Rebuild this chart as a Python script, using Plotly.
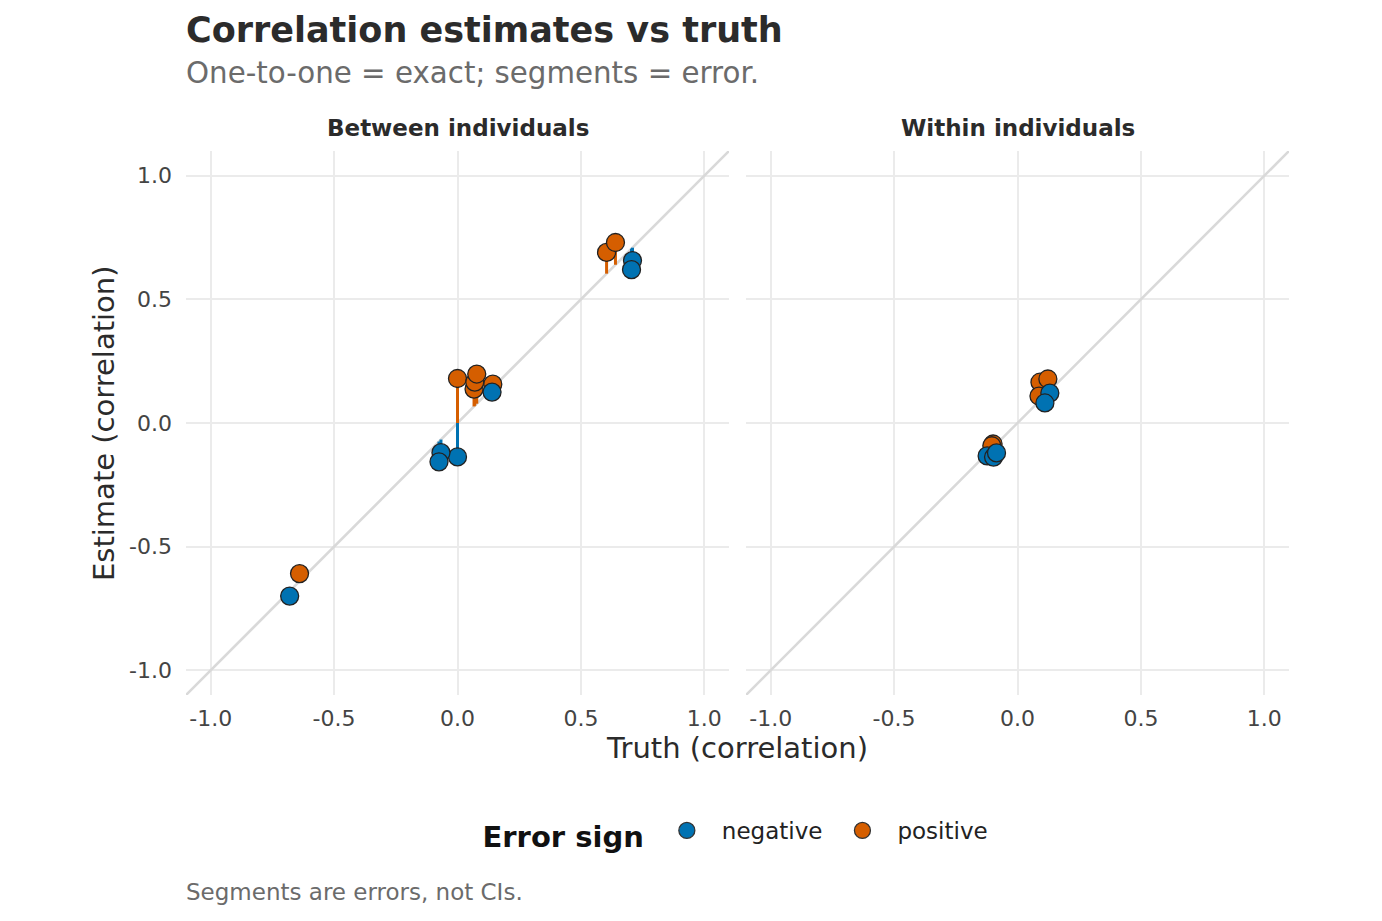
import plotly.graph_objects as go

# Between individuals (row order = drawing order)
between_truth = [-0.64, -0.68, 0.00, 0.00, -0.067, -0.075, 0.604, 0.640, 0.709, 0.705, 0.067, 0.070, 0.078, 0.143, 0.140]
between_est   = [-0.609, -0.70, 0.18, -0.137, -0.12, -0.157, 0.69, 0.73, 0.657, 0.62, 0.137, 0.165, 0.198, 0.157, 0.125]
# Within individuals
within_truth = [-0.099, -0.104, -0.123, -0.097, -0.085, 0.091, 0.123, 0.087, 0.131, 0.111]
within_est   = [-0.085, -0.092, -0.133, -0.138, -0.121, 0.165, 0.178, 0.109, 0.121, 0.081]

panel_titles = ["Between individuals", "Within individuals"]
tick_vals = [-1.0, -0.5, 0.0, 0.5, 1.0]
tick_text = ["-1.0", "-0.5", "0.0", "0.5", "1.0"]
sign_levels = ["negative", "positive"]

COL = {"negative": "#0072B2", "positive": "#D55E00"}
FONT = "DejaVu Sans"

W, H = 1382, 921
def px_x(p): return p / W
def px_y(p): return 1 - p / H

def sign_of(t, e):
    return "positive" if e - t > 0 else "negative"

fig = go.Figure()

panels = [
    ("x", "y", between_truth, between_est),
    ("x2", "y2", within_truth, within_est),
]

rng = [-1.1, 1.1]
for xa, ya, tr, es in panels:
    # identity line
    fig.add_trace(go.Scatter(x=rng, y=rng, xaxis=xa, yaxis=ya, mode="lines",
                             line=dict(color="#d9d9d9", width=2.6), hoverinfo="skip", showlegend=False))
    # error segments
    for sign in sign_levels:
        xs, ys = [], []
        for t, e in zip(tr, es):
            if sign_of(t, e) == sign:
                xs += [t, t, None]
                ys += [t, e, None]
        fig.add_trace(go.Scatter(x=xs, y=ys, xaxis=xa, yaxis=ya, mode="lines",
                                 line=dict(color=COL[sign], width=3), hoverinfo="skip", showlegend=False))
for xa, ya, tr, es in panels:
    cols = [COL[sign_of(t, e)] for t, e in zip(tr, es)]
    fig.add_trace(go.Scatter(x=tr, y=es, xaxis=xa, yaxis=ya, mode="markers", showlegend=False,
                             marker=dict(color=cols, size=18, line=dict(color="#222222", width=1.3))))
# legend entries
for sign in sign_levels:
    fig.add_trace(go.Scatter(x=[None], y=[None], mode="markers", name=sign, showlegend=True,
                             marker=dict(color=COL[sign], size=17, line=dict(color="#333333", width=1.3))))

ydom = [px_y(695), px_y(151)]
axis_common = dict(range=rng, tickvals=tick_vals, ticktext=tick_text, showgrid=True,
                   gridcolor="#ebebeb", gridwidth=2, zeroline=False, showline=False, ticks="",
                   tickfont=dict(family=FONT, size=22, color="#444444"))
fig.update_layout(
    xaxis=dict(domain=[px_x(186), px_x(729)], anchor="y", ticklabelstandoff=8, **axis_common),
    yaxis=dict(domain=ydom, anchor="x", ticklabelstandoff=13, **axis_common),
    xaxis2=dict(domain=[px_x(746), px_x(1289)], anchor="y2", ticklabelstandoff=8, **axis_common),
    yaxis2=dict(domain=ydom, anchor="x2", matches="y", showticklabels=False, **axis_common),
)

ann = []
ann.append(dict(text="<b>Correlation estimates vs truth</b>", x=px_x(184), y=px_y(30), xref="paper", yref="paper",
                xanchor="left", yanchor="middle", showarrow=False,
                font=dict(family=FONT, size=35, color="#2b2b2b")))
ann.append(dict(text="One-to-one = exact; segments = error.", x=px_x(184), y=px_y(73), xref="paper", yref="paper",
                xanchor="left", yanchor="middle", showarrow=False,
                font=dict(family=FONT, size=29.3, color="#6b6b6b")))
for title, (a, b) in zip(panel_titles, [(186, 729), (746, 1289)]):
    ann.append(dict(text="<b>" + title + "</b>", x=px_x((a + b) / 2), y=px_y(128), xref="paper", yref="paper",
                    xanchor="center", yanchor="middle", showarrow=False,
                    font=dict(family=FONT, size=23, color="#2b2b2b")))
ann.append(dict(text="Truth (correlation)", x=px_x(737), y=px_y(748), xref="paper", yref="paper",
                xanchor="center", yanchor="middle", showarrow=False,
                font=dict(family=FONT, size=29, color="#2b2b2b")))
ann.append(dict(text="Estimate (correlation)", x=px_x(104), y=px_y(423), xref="paper", yref="paper",
                xanchor="center", yanchor="middle", showarrow=False, textangle=-90,
                font=dict(family=FONT, size=29, color="#2b2b2b")))
ann.append(dict(text="Segments are errors, not CIs.", x=px_x(184), y=px_y(892), xref="paper", yref="paper",
                xanchor="left", yanchor="middle", showarrow=False,
                font=dict(family=FONT, size=23, color="#6b6b6b")))

fig.update_layout(
    annotations=ann,
    width=W, height=H,
    margin=dict(l=0, r=0, t=0, b=0),
    paper_bgcolor="white", plot_bgcolor="white",
    showlegend=True,
    legend=dict(orientation="h", x=px_x(737), xanchor="center", y=px_y(833), yanchor="middle",
                title=dict(text="<b>Error sign</b>", font=dict(family=FONT, size=29, color="#111111")),
                font=dict(family=FONT, size=23, color="#222222"),
                itemsizing="trace", itemwidth=60, tracegroupgap=0, traceorder="normal"),
    font=dict(family=FONT),
)

fig.write_html("out.html")
